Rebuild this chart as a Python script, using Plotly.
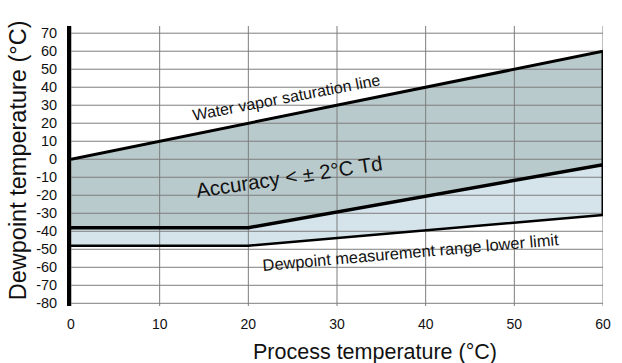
import plotly.graph_objects as go

# ---- data ----
x_ticks = [0, 10, 20, 30, 40, 50, 60]
y_ticks = [-80, -70, -60, -50, -40, -30, -20, -10, 0, 10, 20, 30, 40, 50, 60, 70]
y_labels = [str(v) for v in y_ticks]   # ASCII hyphen, as in the reference

sat_x = [0, 60]          # water vapor saturation line
sat_y = [0, 60]
acc_x = [0, 20, 60]      # accuracy < ±2°C Td lower boundary
acc_y = [-38, -38, -3]
low_x = [0, 20, 60]      # dewpoint measurement range lower limit
low_y = [-48, -48, -31]

FONT = "Liberation Sans, Arial, sans-serif"
Y_RANGE = [-81.5, 74]

fig = go.Figure()

# fills
upper_x = sat_x + acc_x[::-1]
upper_y = sat_y + acc_y[::-1]
fig.add_trace(go.Scatter(x=upper_x, y=upper_y, fill="toself", mode="none",
                         fillcolor="#b9cacc", hoverinfo="skip", showlegend=False))
lower_x = acc_x + low_x[::-1]
lower_y = acc_y + low_y[::-1]
fig.add_trace(go.Scatter(x=lower_x, y=lower_y, fill="toself", mode="none",
                         fillcolor="#d4e4ea", hoverinfo="skip", showlegend=False))

# grid lines (drawn over fills)
gx, gy = [], []
for v in x_ticks:
    gx += [v, v, None]
    gy += [Y_RANGE[0], Y_RANGE[1], None]
for h in y_ticks:
    gx += [x_ticks[0], x_ticks[-1], None]
    gy += [h, h, None]
fig.add_trace(go.Scatter(x=gx, y=gy, mode="lines", line=dict(color="#7d7d7d", width=1),
                         hoverinfo="skip", showlegend=False, cliponaxis=False))

# boundary lines
fig.add_trace(go.Scatter(x=sat_x, y=sat_y, mode="lines", line=dict(color="black", width=3),
                         showlegend=False))
fig.add_trace(go.Scatter(x=acc_x, y=acc_y, mode="lines", line=dict(color="black", width=3.5),
                         showlegend=False))
fig.add_trace(go.Scatter(x=low_x, y=low_y, mode="lines", line=dict(color="black", width=2.5),
                         showlegend=False))
fig.add_trace(go.Scatter(x=[sat_x[-1], low_x[-1]], y=[sat_y[-1], low_y[-1]], mode="lines",
                         line=dict(color="black", width=3), showlegend=False, cliponaxis=False))

fig.update_layout(
    width=622, height=363,
    margin=dict(l=71, r=11, t=26, b=57),
    paper_bgcolor="white", plot_bgcolor="white",
    font=dict(family=FONT, color="#111"),
    xaxis=dict(range=[0, 60], tickvals=x_ticks, showgrid=False, zeroline=False,
               showline=False, ticks="", tickfont=dict(size=14, family=FONT),
               ticklabelstandoff=8),
    yaxis=dict(range=Y_RANGE, tickvals=y_ticks, ticktext=y_labels, showgrid=False,
               zeroline=False, showline=True, linecolor="black", linewidth=4, ticks="",
               tickfont=dict(size=14.5, family=FONT), ticklabelstandoff=7),
    annotations=[
        dict(x=24.3, y=34.3, xref="x", yref="y", text="Water vapor saturation line",
             showarrow=False, textangle=-10.8, font=dict(size=16, family=FONT),
             xanchor="center", yanchor="middle"),
        dict(x=24.6, y=-9.5, xref="x", yref="y", text="Accuracy < ± 2°C Td",
             showarrow=False, textangle=-8.5, font=dict(size=20.5, family=FONT),
             xanchor="center", yanchor="middle"),
        dict(x=38.3, y=-51.5, xref="x", yref="y", text="Dewpoint measurement range lower limit",
             showarrow=False, textangle=-5, font=dict(size=16.4, family=FONT),
             xanchor="center", yanchor="middle"),
        dict(x=0.572, y=-0.165, xref="paper", yref="paper", text="Process temperature (°C)",
             showarrow=False, font=dict(size=21.5, family=FONT),
             xanchor="center", yanchor="middle"),
        dict(x=-0.098, y=0.52, xref="paper", yref="paper", text="Dewpoint temperature (°C)",
             showarrow=False, textangle=-90, font=dict(size=23.5, family=FONT),
             xanchor="center", yanchor="middle"),
    ],
)

fig.write_html("out.html")
